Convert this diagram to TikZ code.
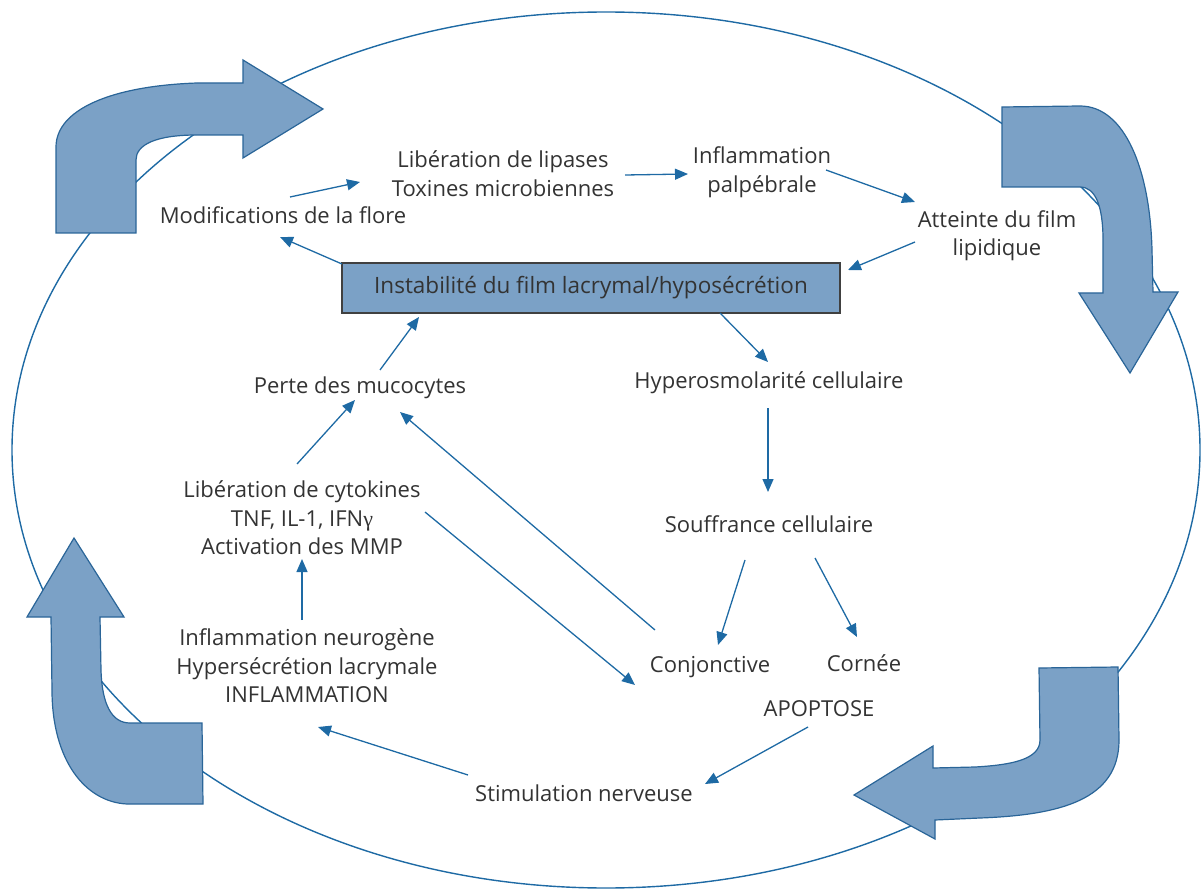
\documentclass[tikz,border=0pt]{standalone}
\usepackage{fontspec}
\setmainfont{Open Sans}
\newfontfamily\gkfont{Liberation Serif}
\usetikzlibrary{arrows.meta,calc}
\definecolor{fillblue}{HTML}{7BA1C6}
\definecolor{edgeblue}{HTML}{2A6598}
\definecolor{lineblue}{HTML}{1E6AA4}
\definecolor{txtgray}{HTML}{333333}
\tikzset{
  bigarrow/.style={fill=fillblue,draw=edgeblue,line width=1.2pt,line join=miter},
  txt/.style={text=txtgray,align=center,inner sep=0pt,font=\fontsize{22}{28.5}\selectfont},
  arr/.style={draw=lineblue,line width=1.3pt,-{Triangle[length=13pt,width=11pt]}},
  mainbox/.style={fill=fillblue,draw=black!75,line width=1.2pt,minimum width=498pt,minimum height=50pt,inner sep=0pt,text=txtgray,font=\fontsize{22.5}{26}\selectfont}
}
\begin{document}
\begin{tikzpicture}[x=1pt,y=-1pt]
\useasboundingbox (0,0) rectangle (1201,890);
% ellipse
\draw[lineblue,line width=1.4pt] (606,450) ellipse [x radius=594, y radius=438];
% big curved arrows
\draw[bigarrow] (56,233) -- (56,147) .. controls (56,110) and (110,86) .. (197,83) -- (243,83) -- (243,60) -- (323,109) -- (243,158) -- (243,135) -- (197,135) .. controls (155,135) and (136,145) .. (136,160) -- (136,233) -- cycle;
\draw[bigarrow] (1002,107) -- (1080,106) .. controls (1125,106) and (1150,170) .. (1152,250) -- (1153,292) -- (1178,292) -- (1130,373) -- (1079,293) -- (1103,293) -- (1103,240) .. controls (1103,205) and (1095,187) .. (1080,187) -- (1002,187) -- cycle;
\draw[bigarrow] (1039,668) -- (1118,667) -- (1119,740) .. controls (1119,800) and (1060,815) .. (980,818) -- (935,820) -- (935,839) -- (854,795) -- (933,746) -- (933,768) -- (975,767) .. controls (1010,765) and (1040,760) .. (1040,740) -- cycle;
\draw[bigarrow] (74,538) -- (124,617) -- (100,617) -- (101,670) .. controls (102,705) and (112,723) .. (130,723) -- (202,723) -- (203,804) -- (127,804) .. controls (85,802) and (52,760) .. (52,690) -- (51,617) -- (27,617) -- cycle;
% nodes
\node[mainbox] (box) at (591,288) {Instabilité du film lacrymal/hyposécrétion};
\node[txt] (mod) at (283,215) {Modifications de la flore};
\node[txt] (lip) at (503,173.5) {Libération de lipases\\Toxines microbiennes};
\node[txt] (infl) at (762,172) {Inflammation\\palpébrale};
\node[txt] (att) at (997,235.5) {Atteinte du film\\lipidique};
\node[txt] (hyp) at (769,383) {Hyperosmolarité cellulaire};
\node[txt] (sou) at (769,524) {Souffrance cellulaire};
\node[txt] (conj) at (710,667) {Conjonctive};
\node[txt] (corn) at (864,663) {Cornée};
\node[txt] (apo) at (819,709) {APOPTOSE};
\node[txt] (stim) at (584,793) {Stimulation nerveuse};
\node[txt] (neur) at (307,666) {Inflammation neurogène\\Hypersécrétion lacrymale\\INFLAMMATION};
\node[txt] (cyt) at (302,518) {Libération de cytokines\\TNF, IL-1, IFN{\gkfont γ}\\Activation des MMP};
\node[txt] (perte) at (360,388) {Perte des mucocytes};
% connectors
\draw[arr] ($(mod)+(7,-18)$) -- ($(lip)+(-143,8.5)$);
\draw[arr] ($(lip)+(122,1.5)$) -- ($(infl)+(-74,2)$);
\draw[arr] ($(infl)+(64,-2)$) -- ($(att)+(-82,-33.5)$);
\draw[arr] ($(att)+(-82,6.5)$) -- ($(box)+(257,-18)$);
\draw[arr] ($(box)+(-249,-24)$) -- ($(mod)+(-3,22)$);
\draw[arr] ($(box)+(129,25)$) -- ($(hyp)+(-1,-21)$);
\draw[arr] ($(hyp)+(-1,25)$) -- ($(sou)+(-1,-32)$);
\draw[arr] ($(sou)+(-24,36)$) -- ($(conj)+(8,-22)$);
\draw[arr] ($(sou)+(46,34)$) -- ($(corn)+(-7,-26)$);
\draw[arr] ($(conj)+(-55,-37)$) -- ($(perte)+(40,24)$);
\draw[arr] ($(cyt)+(123,-6)$) -- ($(conj)+(-75,18)$);
\draw[arr] ($(apo)+(-11,18)$) -- ($(stim)+(121,-9)$);
\draw[arr] ($(stim)+(-116,-18)$) -- ($(neur)+(11,61)$);
\draw[arr] ($(neur)+(-5,-46)$) -- ($(cyt)+(0,41)$);
\draw[arr] ($(cyt)+(-5,-54)$) -- ($(perte)+(-5,12)$);
\draw[arr] ($(perte)+(20,-18)$) -- ($(box)+(-172,29)$);
\end{tikzpicture}
\end{document}
